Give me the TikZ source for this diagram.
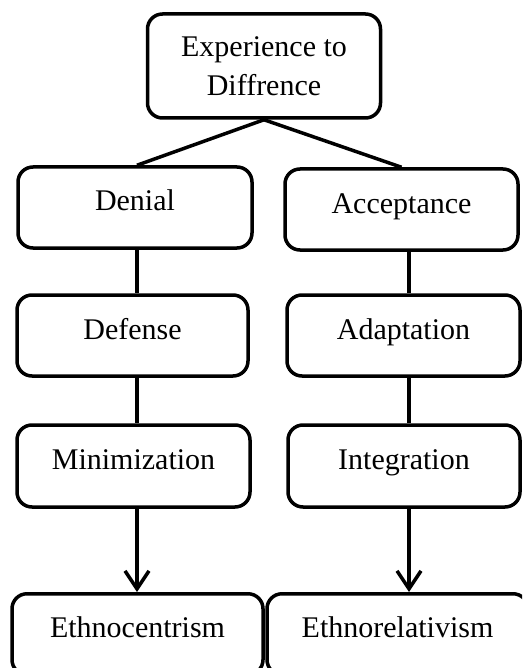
\documentclass[tikz,border=0pt]{standalone}
\usepackage{fontspec}
\setmainfont{Liberation Serif}
\usetikzlibrary{arrows.meta}
\begin{document}
\begin{tikzpicture}[x=1pt,y=-1pt,
  stagebox/.style={draw=black, line width=3.5pt, rounded corners=15pt, fill=white,
    minimum width=233pt, minimum height=81pt, inner xsep=0pt, inner ysep=0pt,
    text height=44pt, text depth=37pt, font=\fontsize{30}{39}\selectfont},
  topbox/.style={draw=black, line width=3.5pt, rounded corners=15pt,
    minimum width=233pt, minimum height=104pt, inner sep=0pt, align=center,
    font=\fontsize{30}{39}\selectfont},
  link/.style={line width=3.5pt},
  arrowlink/.style={line width=3.5pt, -{Straight Barb[length=18pt,width=24pt]}}]
\useasboundingbox (0,0) rectangle (522,668);
\clip (0,0) rectangle (522,668);
\fill[white] (0,0) rectangle (522,668);
\coordinate (cl) at (137,0);
\coordinate (cr) at (409,0);
\node[topbox] (top) at (264,66) {Experience to\\Diffrence};
\node[stagebox, minimum width=234pt] (denial) at (135,207.5) {Denial};
\node[stagebox] (accept) at (401.5,209.5) {Acceptance};
\node[stagebox, minimum width=231pt, minimum height=80pt] (defense) at (132.5,335.5) {Defense};
\node[stagebox] (adapt) at (403.5,335.5) {Adaptation};
\node[stagebox, minimum height=82pt, text depth=38pt] (mini) at (133.5,466) {Minimization};
\node[stagebox, minimum width=232pt, minimum height=82pt, text depth=38pt] (integ) at (404,466) {Integration};
\node[stagebox, minimum width=251pt, anchor=north] (ethnoc) at (137.5,592) {Ethnocentrism};
\node[stagebox, minimum width=261pt, anchor=north] (ethnor) at (397.5,592) {Ethnorelativism};
\draw[link] (top.south) -- (denial.north -| cl);
\draw[link] (top.south) -- (accept.north);
\draw[link] (denial.south -| cl) -- (defense.north -| cl);
\draw[link] (defense.south -| cl) -- (mini.north -| cl);
\draw[arrowlink] (mini.south -| cl) -- (ethnoc.north -| cl);
\draw[link] (accept.south -| cr) -- (adapt.north -| cr);
\draw[link] (adapt.south -| cr) -- (integ.north -| cr);
\draw[arrowlink] (integ.south -| cr) -- (ethnor.north -| cr);
\end{tikzpicture}
\end{document}
